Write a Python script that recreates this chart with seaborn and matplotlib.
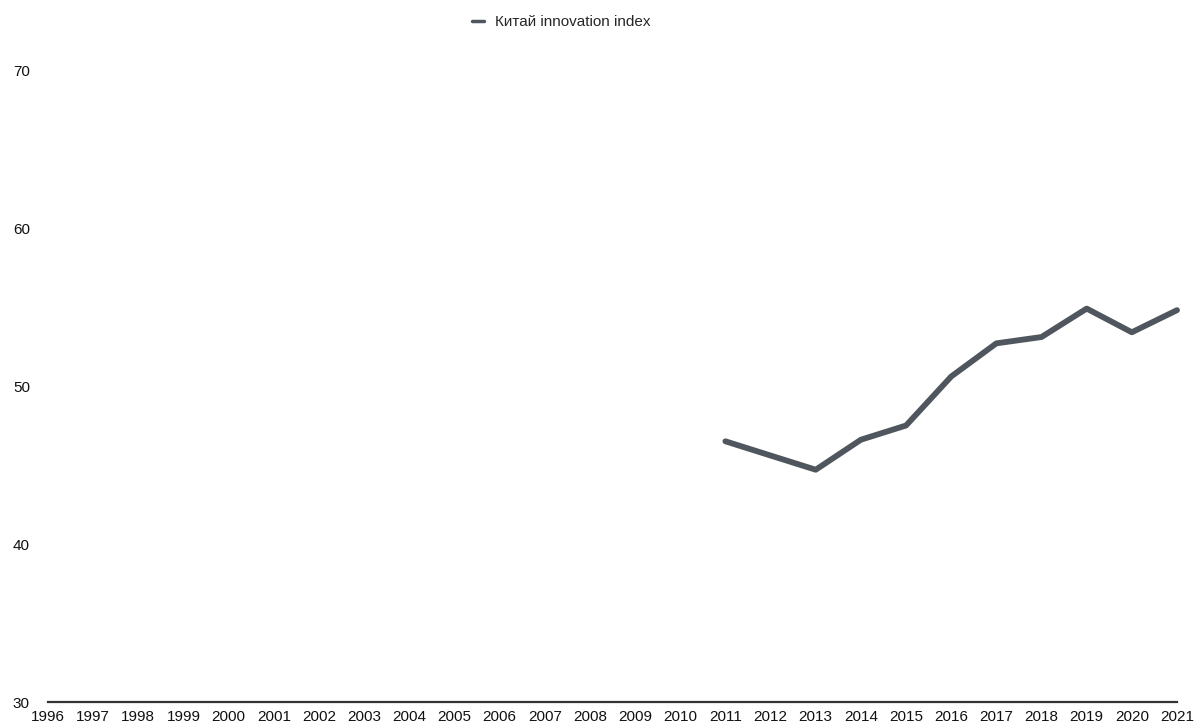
import matplotlib
matplotlib.use("Agg")
import matplotlib.pyplot as plt
import seaborn as sns
import pandas as pd
import numpy as np

years = list(range(1996, 2022))
data_years = [2011, 2012, 2013, 2014, 2015, 2016, 2017, 2018, 2019, 2020, 2021]
values = [46.5, 45.6, 44.7, 46.6, 47.5, 50.6, 52.7, 53.1, 54.9, 53.4, 54.8]
series_name = "Китай innovation index"
y_ticks = [30, 40, 50, 60, 70]

sns.set_theme(style="white")
plt.rcParams['font.family'] = ['Liberation Sans', 'DejaVu Sans']

df = pd.DataFrame({"year": data_years, "value": values, "series": series_name})

fig = plt.figure(figsize=(11.94, 7.27), dpi=100)
ax = fig.add_axes([48/1194, 25/727, 1129/1194, 632/727])

sns.lineplot(data=df, x="year", y="value", hue="series", palette=["#50565e"],
             linewidth=4.2, ax=ax, legend=True)

ax.set_xlim(1996, 2021)
ax.set_ylim(30, 70)
ax.set_xticks(years)
ax.set_xticklabels([str(y) for y in years], fontsize=11, color="#111111")
ax.set_yticks(y_ticks)
ax.set_yticklabels([str(v) for v in y_ticks], fontsize=11, color="#111111")
ax.tick_params(axis="x", length=0, pad=6)
ax.tick_params(axis="y", length=0, pad=13)
ax.set_xlabel("")
ax.set_ylabel("")
for s in ["top", "right", "left"]:
    ax.spines[s].set_visible(False)
ax.spines["bottom"].set_color("#333333")
ax.spines["bottom"].set_linewidth(1.6)
ax.grid(False)
for line in ax.lines:
    line.set_clip_on(False)

leg = ax.legend(loc="center", bbox_to_anchor=(561/1194, 1 - 22/727),
                bbox_transform=fig.transFigure, frameon=False, fontsize=11,
                handlelength=0.8, handletextpad=0.7)
for h in leg.get_lines():
    h.set_linewidth(2.5)

fig.savefig("out.png", dpi=100)
